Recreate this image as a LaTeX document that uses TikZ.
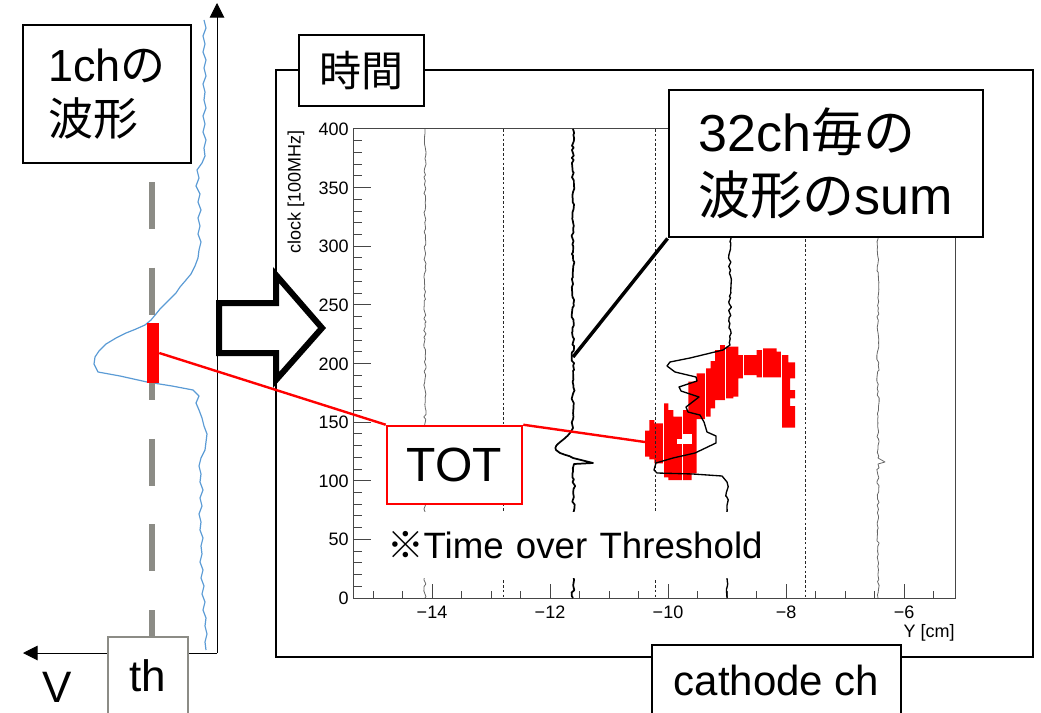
\documentclass[tikz,border=0pt]{standalone}
\usepackage{fontspec}
\setmainfont{Liberation Sans}
\newfontfamily\jp{Noto Sans CJK JP}
\usetikzlibrary{arrows.meta,decorations.pathmorphing}
\definecolor{wblue}{RGB}{91,155,213}
\definecolor{thgray}{RGB}{140,140,134}
\definecolor{axgray}{RGB}{70,70,70}
\begin{document}
\begin{tikzpicture}[x=0.75pt,y=-0.75pt,
  box/.style={draw=black, line width=2.2pt, fill=white, inner sep=0pt},
  ax/.style={draw=axgray, line width=0.75pt},
  ticklab/.style={font=\fontsize{13.5}{16}\selectfont, inner sep=0pt},
  dashln/.style={draw=black!85, line width=0.6pt, dash pattern=on 2pt off 1.6pt},
  jit/.style={decoration={random steps, segment length=2.4pt, amplitude=1.1pt}},
  jits/.style={decoration={random steps, segment length=2.4pt, amplitude=0.9pt}},
  wavegray/.style={draw=black!60, line width=0.6pt, line join=round, jits},
  waveblack/.style={draw=black, line width=1.3pt, line join=round, jit},
  wavemid/.style={draw=black, line width=1.0pt, line join=round, jit},
  redline/.style={draw=red, line width=1.8pt}]
\useasboundingbox (0,0) rectangle (1041,713);
\clip (0,0) rectangle (1041,713);
\pgfmathsetseed{11}

% outer frame
\draw[line width=2.2pt] (276,70) rectangle (1033,657);

% ---------- plot ----------
% red blob (TOT map)
\begin{scope}[shift={(560,300)}, x=0.25pt, y=-0.25pt]
\fill[red] (255,470) -- (255,392) -- (268,392) -- (268,360) -- (283,360) -- (283,370) -- (310,370) -- (310,310) -- (325,310) -- (325,330) -- (340,330) -- (340,350) -- (368,350) -- (368,330) -- (385,330) -- (385,245) -- (410,245) -- (410,220) -- (437,220) -- (437,205) -- (452,205) -- (452,183) -- (465,183) -- (465,150) -- (480,150) -- (480,135) -- (495,135) -- (495,140) -- (535,140) -- (535,165) -- (590,165) -- (590,150) -- (608,150) -- (608,145) -- (650,145) -- (650,155) -- (665,155) -- (665,165) -- (685,165) -- (685,187) -- (705,187) -- (705,235) -- (690,235) -- (690,270) -- (705,270) -- (705,295) -- (690,295) -- (690,318) -- (705,318) -- (705,383) -- (665,383) -- (665,232) -- (590,232) -- (590,225) -- (550,225) -- (550,235) -- (535,235) -- (535,290) -- (520,290) -- (520,295) -- (495,295) -- (495,300) -- (465,300) -- (465,325) -- (452,325) -- (452,350) -- (437,350) -- (437,357) -- (410,357) -- (410,520) -- (395,520) -- (395,540) -- (325,540) -- (325,532) -- (310,532) -- (310,490) -- (283,490) -- (283,478) -- (268,478) -- (268,470) -- cycle;
\fill[white] (352,418) rectangle (370,432);
\fill[white] (370,402) rectangle (395,432);
\foreach \z in {310,368,437,495,550,608,665}
  \draw[white, line width=0.6pt] (\z,130) -- (\z,545);
\end{scope}

% axes box
\draw[ax] (353,129) rectangle (955,598);
\foreach \v in {0,10,...,400}
  \draw[ax] (353,{598-1.1725*\v}) -- ++(9,0);
\foreach \v in {0,50,...,400}{
  \draw[ax] (353,{598-1.1725*\v}) -- ++(18,0);
  \node[ticklab, anchor=base east] (yl\v) at (349,{604.5-1.1725*\v}) {\v};
}
\foreach \v in {-15,-14.5,...,-5.5}
  \draw[ax] ({432+59*(\v+14)},598) -- ++(0,-7);
\foreach \v/\t in {-14/14,-12/12,-10/10,-8/8,-6/6}{
  \draw[ax] ({432+59*(\v+14)},598) -- ++(0,-14);
  \node[ticklab, anchor=base] (xl\t) at ({432+59*(\v+14)},618) {−\t};
}
\node[ticklab, rotate=90, anchor=east] (ylab) at (296,130) {clock [100MHz]};
\node[ticklab, anchor=base east] (xlab) at (955,637) {Y [cm]};

% dashed separators
\foreach \x in {503,655,805}
  \draw[dashln] (\x,129) -- (\x,598);

% waveforms
\draw[wavegray] (425,129) decorate{-- (425,598)};
\draw[waveblack] (573,129) decorate{-- (573,428)} .. controls (568,440) and (552,444) .. (556,450) .. controls (560,455) and (570,455) .. (573,458) -- (593,463) -- (574,464) decorate{-- (573,598)};
\draw[wavemid] (730,129) decorate{-- (730,345)} -- (723,350) -- (690,358) -- (670,362) -- (667,366) -- (675,372) -- (696,377) -- (697,381) -- (679,387) -- (681,391) -- (699,397) -- (686,407) -- (688,412) -- (700,415) -- (704,422) -- (707,432) -- (716,436) -- (716,443) -- (695,453) -- (673,458) -- (656,463) -- (654,470) -- (657,473) -- (693,474) -- (722,476) -- (727,482) decorate{-- (727,598)};
\draw[wavegray] (878,129) decorate{-- (878,458)} -- (885,462) -- (878,464) decorate{-- (878,598)};

% note text (white background)
\node[fill=white, inner ysep=0pt, inner xsep=3.75pt, minimum height=49.5pt, text width=298.5pt, align=left,
  font=\fontsize{27.5}{33}\selectfont] (note) at (586,545) {{\jp ※}Time over Threshold};

% TOT box and connectors
\node[box, draw=red, line width=1.9pt, minimum width=101.25pt, minimum height=58.5pt,
  font=\fontsize{36}{43}\selectfont] (tot) at (454.5,465) {TOT};
\coordinate (blobpt) at (645,442);
\draw[redline] (tot.north east) -- (blobpt);

% sum box
\node[box, minimum width=235.5pt, minimum height=110.25pt, align=left,
  font=\fontsize{39}{47}\selectfont] (sum) at (826,163.5) {32ch{\jp 毎の}\\{\jp 波形の}sum};
\coordinate (sumpt) at (573,357);
\draw[line width=2.6pt] (sum.south west) -- (sumpt);

% time / cathode labels
\node[box, minimum width=93.75pt, minimum height=53.25pt,
  font=\fontsize{31.5}{38}\selectfont] (time) at (361.5,70.5) {\jp 時間};
\node[box, minimum width=186.75pt, minimum height=53.25pt,
  font=\fontsize{31.5}{38}\selectfont] (cath) at (776.5,680.5) {cathode ch};

% ---------- left: single channel waveform ----------
\draw[line width=0.75pt, -{Triangle[length=11pt,width=11pt]}] (217,653) -- (217,3);
\draw[line width=0.75pt, -{Triangle[length=11pt,width=11pt]}] (217,653) -- (23,653);

\draw[draw=wblue, line width=0.9pt, line join=round]
  (204,20) -- (206,28) -- (203,36) -- (205,44) -- (203,52) -- (206,60) -- (204,68) -- (206,76) -- (203,84) -- (205,92) -- (204,100) -- (206,108) -- (203,116) -- (205,124) -- (203,132) -- (206,140) -- (204,148) -- (205,156) -- (202,163) -- (197,170) -- (199,178) -- (196,186) -- (200,194) -- (198,202) -- (201,210) -- (198,218) -- (200,226) -- (198,234) -- (201,242) -- (199,250) -- (198,258) -- (195,266) -- (191,274) -- (186,280) -- (180,287) -- (176,293) -- (170,299) -- (166,303) -- (160,309) -- (156,314) -- (151,320) -- (145,325) -- (136,329) -- (126,333) -- (116,338) -- (106,344) -- (99,351) -- (95,357) -- (94,364) -- (98,372) -- (120,376) -- (147,382) -- (172,386) -- (193,390) -- (199,396) -- (196,403) -- (199,410) -- (202,418) -- (204,426) -- (207,434) -- (206,442) -- (205,450) -- (201,458) -- (199,466) -- (201,474) -- (200,482) -- (203,490) -- (200,498) -- (202,506) -- (199,514) -- (201,522) -- (200,530) -- (203,538) -- (201,546) -- (202,554) -- (200,562) -- (203,570) -- (201,578) -- (204,586) -- (202,594) -- (205,602) -- (203,610) -- (206,618) -- (205,626) -- (207,634) -- (205,642) -- (206,650);

\draw[draw=thgray, line width=4.8pt, dash pattern=on 35.25pt off 28.95pt] (152,182) -- (152,637);
\node[fill=red, inner sep=0pt, minimum width=9pt, minimum height=45pt] (thr) at (153,353) {};
\draw[redline] (thr.east) -- (tot.north west);

\node[box, line width=1.9pt, minimum width=126pt, minimum height=103.5pt, align=left,
  font=\fontsize{33.75}{40.5}\selectfont] (one) at (107,94) {1ch{\jp の}\\{\jp 波形}};

\node[box, draw=thgray, line width=1.9pt, minimum width=60pt, minimum height=58.5pt,
  font=\fontsize{33}{40}\selectfont] (th) at (148,676) {th};
\node[inner sep=0pt, font=\fontsize{33}{40}\selectfont] (V) at (57,687) {V};

% block arrow
\draw[line width=4.5pt, fill=white, line join=miter] (219,303) -- (276,303) -- (276,275) -- (322,328) -- (276,380) -- (276,353) -- (219,353) -- cycle;
\end{tikzpicture}
\end{document}
